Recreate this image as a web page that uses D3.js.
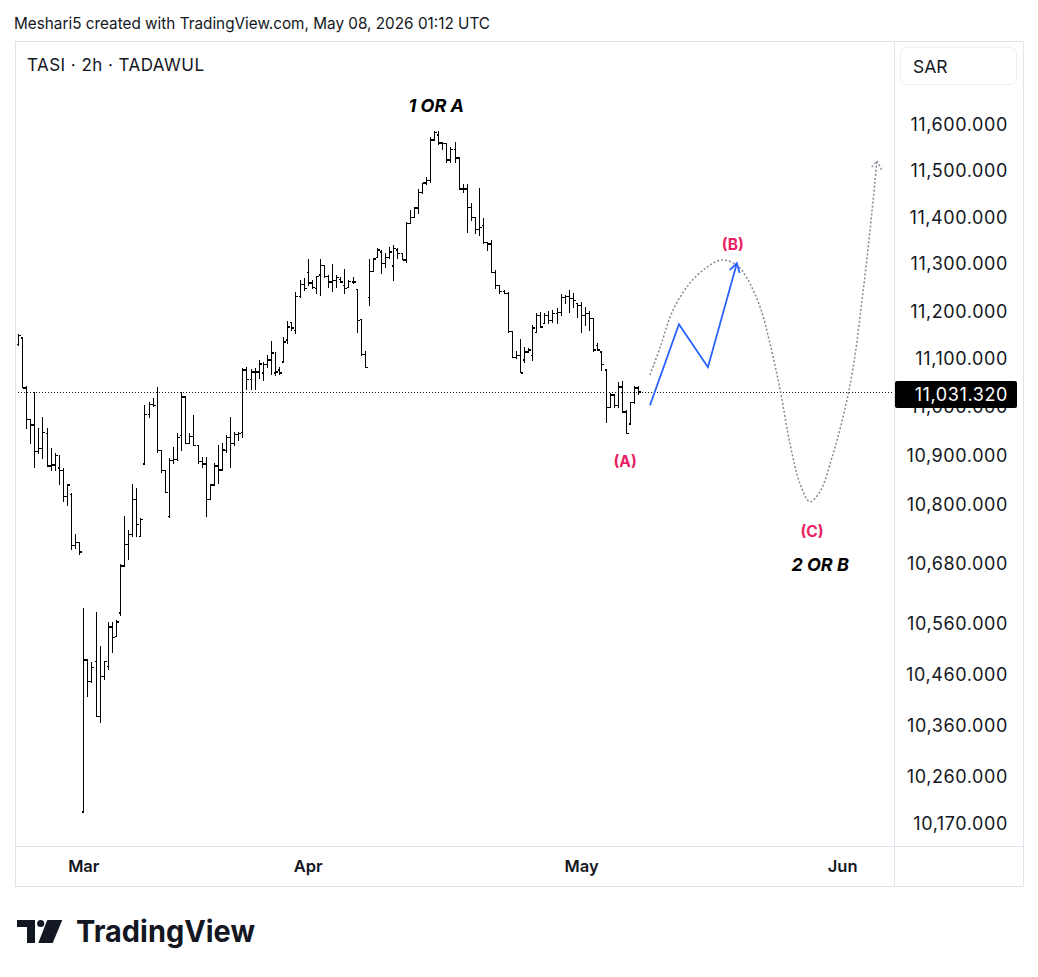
<!DOCTYPE html>
<html>
<head>
<meta charset="utf-8">
<script src="https://cdnjs.cloudflare.com/ajax/libs/d3/7.8.5/d3.min.js"></script>
<style>
  html, body { margin: 0; padding: 0; background: #fff; }
  svg { display: block; font-family: Inter, "Noto Sans", sans-serif; }
</style>
</head>
<body>
<svg id="chart" width="1038" height="977"></svg>
<script>
// OHLC bars, 2h TASI (index 0 = first bar at the left edge)
const highs = [11152,11144,11042,10975,11031,10956,10979,10956,10915,10904,
  10900,10873,10842,10823,10740,10724,10591,10489,10484,10583,
  10515,10486,10564,10564,10568,10680,10776,10748,10842,10833,
  10772,11004,11010,11019,11040,10910,10869,10894,10917,10946,
  11031,11023,10946,10983,10921,10896,10896,10842,10883,10921,
  10925,10942,10979,10948,10948,11081,11083,11079,11081,11098,
  11092,11108,11136,11113,11083,11146,11179,11177,11240,11266,
  11270,11309,11266,11274,11311,11298,11277,11300,11277,11272,
  11289,11266,11272,11247,11183,11115,11309,11313,11334,11330,
  11323,11336,11340,11334,11323,11389,11415,11422,11459,11474,
  11485,11572,11585,11585,11561,11559,11552,11561,11530,11470,
  11470,11430,11400,11463,11398,11347,11351,11287,11255,11245,
  11240,11158,11115,11142,11125,11123,11171,11196,11198,11196,
  11200,11202,11206,11236,11234,11245,11238,11217,11219,11209,
  11200,11185,11133,11115,11077,11029,11025,11052,11054,10994,
  11010,11042,11042];
const lows = [11129,11040,10956,10925,10875,10904,10894,10877,10869,10869,
  10842,10806,10798,10710,10712,10700,10193,10417,10444,10378,
  10366,10450,10470,10503,10535,10578,10676,10690,10736,10736,
  10736,10883,10979,11002,10906,10865,10825,10774,10883,10890,
  10910,10925,10925,10921,10883,10875,10776,10810,10840,10844,
  10869,10906,10875,10921,10931,10938,11036,11036,11036,11060,
  11056,11083,11067,11065,11067,11092,11133,11160,11154,11230,
  11245,11255,11249,11238,11234,11272,11251,11242,11251,11262,
  11238,11251,11260,11156,11108,11083,11213,11285,11315,11281,
  11294,11313,11266,11313,11309,11304,11387,11400,11409,11452,
  11470,11476,11567,11557,11546,11518,11518,11518,11459,11454,
  11368,11394,11366,11362,11345,11330,11283,11249,11238,11238,
  11156,11104,11102,11071,11092,11113,11098,11156,11167,11175,
  11175,11177,11175,11192,11217,11198,11209,11188,11156,11171,
  11160,11115,11119,11077,10969,11000,11000,11000,10990,10946,
  10965,11008,11027];
const opens = [11131,11144,11040,10975,10963,10908,10915,10946,10879,10881,
  10875,10869,10817,10821,10718,10724,10193,10489,10446,10486,
  10378,10456,10476,10554,10535,10582,10676,10720,10740,10810,
  10736,10883,10985,11006,11031,10910,10869,10776,10890,10892,
  10942,11021,10925,10940,10921,10888,10883,10810,10840,10879,
  10871,10910,10938,10925,10944,10948,11077,11058,11073,11073,
  11071,11088,11098,11071,11077,11094,11140,11177,11160,11232,
  11257,11283,11260,11249,11277,11298,11274,11262,11266,11268,
  11255,11251,11262,11247,11183,11110,11230,11285,11315,11326,
  11302,11315,11296,11330,11323,11309,11387,11400,11420,11454,
  11474,11480,11567,11578,11561,11559,11524,11546,11528,11461,
  11461,11422,11400,11374,11383,11347,11343,11283,11255,11242,
  11238,11158,11104,11108,11098,11115,11108,11156,11192,11175,
  11192,11181,11196,11198,11230,11232,11228,11217,11213,11192,
  11196,11185,11129,11115,11077,11000,11025,11004,11042,10990,
  10965,11010,11040];
const closes = [11150,11040,10975,10963,10908,10915,10948,10879,10881,10900,
  10869,10817,10840,10718,10724,10704,10489,10446,10474,10378,
  10456,10486,10554,10533,10564,10676,10720,10740,10810,10760,
  10770,10985,11006,11004,10910,10869,10825,10890,10892,10938,
  11021,10925,10940,10921,10888,10883,10810,10840,10879,10871,
  10912,10938,10925,10944,10946,11077,11058,11073,11073,11090,
  11088,11098,11113,11073,11071,11136,11167,11165,11232,11257,
  11249,11260,11251,11274,11298,11274,11262,11266,11272,11262,
  11249,11264,11262,11181,11110,11083,11285,11311,11330,11302,
  11315,11326,11334,11323,11309,11387,11400,11420,11454,11474,
  11480,11567,11583,11561,11559,11524,11546,11528,11461,11461,
  11422,11400,11374,11379,11347,11343,11283,11255,11242,11238,
  11158,11104,11108,11071,11115,11119,11165,11192,11167,11192,
  11181,11196,11198,11230,11232,11228,11223,11213,11192,11196,
  11185,11119,11119,11088,11000,11025,11004,11042,10990,10946,
  11010,11040,11031.32];

const lastPrice = 11031.32;

// time axis (bar index where each month starts, future bars included)
const monthLabels = ["Mar", "Apr", "May", "Jun"];
const monthIndex = [16, 71, 138, 202];

// price axis ticks
const priceTicks = [11600, 11500, 11400, 11300, 11200, 11100, 11000, 10900, 10800,
  10680, 10560, 10460, 10360, 10260, 10170];

// drawings: [bar index, price]
const bluePath = [[154.9, 11004], [162, 11173], [169.1, 11083], [176.2, 11302]];
const projPath = [[154.9, 11067], [157.4, 11125], [160.5, 11202], [164.7, 11260],
  [168.9, 11294], [172.5, 11309], [176.2, 11298], [178.7, 11270], [181.9, 11209],
  [184.3, 11133], [186.8, 11036], [189.2, 10925], [191.7, 10842], [194.1, 10806],
  [196.6, 10827], [199.5, 10896], [202.2, 10979], [204.7, 11083], [206.9, 11226],
  [208.8, 11370], [210, 11474], [210.5, 11522]];
const waveLabels = [
  { text: "1 OR A", i: 102.5, p: 11643, kind: "big" },
  { text: "(A)", i: 148.8, p: 10888, kind: "pink" },
  { text: "(B)", i: 175.2, p: 11341, kind: "pink" },
  { text: "(C)", i: 194.6, p: 10746, kind: "pink" },
  { text: "2 OR B", i: 196.6, p: 10680, kind: "big" }
];

const svg = d3.select('#chart');
const W = 1038;
const paneLeft = 15, paneRight = 894, paneTop = 41, paneBottom = 846;
const frameRight = 1023, frameBottom = 886;

// scales
const x = d3.scaleLinear().domain([0, 152]).range([18, 18 + 152 * 4.08]);
const y = d3.scaleLog().domain([11600, 10170]).range([125, 824]);

svg.append('rect').attr('width', W).attr('height', 977).attr('fill', '#fff');

// header
svg.append('text')
  .attr('x', 14).attr('y', 29)
  .attr('font-size', 16.5)
  .attr('textLength', 476).attr('lengthAdjust', 'spacingAndGlyphs')
  .attr('fill', '#131722')
  .text('Meshari5 created with TradingView.com, May 08, 2026 01:12 UTC');

// frame
const frame = svg.append('g').attr('stroke', '#e0e3eb').attr('fill', 'none').attr('shape-rendering', 'crispEdges');
frame.append('rect').attr('x', paneLeft + 0.5).attr('y', paneTop + 0.5)
  .attr('width', frameRight - paneLeft).attr('height', frameBottom - paneTop);
frame.append('line').attr('x1', paneRight + 0.5).attr('x2', paneRight + 0.5)
  .attr('y1', paneTop).attr('y2', frameBottom);
frame.append('line').attr('x1', paneLeft).attr('x2', frameRight)
  .attr('y1', paneBottom + 0.5).attr('y2', paneBottom + 0.5);

svg.append('text')
  .attr('x', 27).attr('y', 71)
  .attr('font-size', 17)
  .attr('textLength', 177).attr('lengthAdjust', 'spacing')
  .attr('fill', '#131722')
  .text('TASI · 2h · TADAWUL');

// clip for plot pane
svg.append('clipPath').attr('id', 'pane')
  .append('rect').attr('x', paneLeft + 1).attr('y', paneTop + 1)
  .attr('width', paneRight - paneLeft - 1).attr('height', paneBottom - paneTop - 1);
const plot = svg.append('g').attr('clip-path', 'url(#pane)');

// last price dotted line
plot.append('line')
  .attr('x1', paneLeft).attr('x2', paneRight)
  .attr('y1', Math.round(y(lastPrice)) + 0.5).attr('y2', Math.round(y(lastPrice)) + 0.5)
  .attr('stroke', '#131722').attr('stroke-width', 1)
  .attr('stroke-dasharray', '1,2');

// OHLC bars
const bars = highs.map((h, i) => ({ i, h, l: lows[i], o: opens[i], c: closes[i] }));
const barG = plot.append('g')
  .attr('stroke', '#000').attr('stroke-width', 1.3)
  .attr('shape-rendering', 'crispEdges');
const bg = barG.selectAll('g').data(bars).enter().append('g');
bg.append('line')
  .attr('x1', d => Math.round(x(d.i)) + 0.5).attr('x2', d => Math.round(x(d.i)) + 0.5)
  .attr('y1', d => y(d.h) - 0.5).attr('y2', d => y(d.l) + 0.5);
bg.append('line')
  .attr('x1', d => Math.round(x(d.i)) - 1.5).attr('x2', d => Math.round(x(d.i)) + 0.5)
  .attr('y1', d => y(d.o)).attr('y2', d => y(d.o));
bg.append('line')
  .attr('x1', d => Math.round(x(d.i)) + 0.5).attr('x2', d => Math.round(x(d.i)) + 2.5)
  .attr('y1', d => y(d.c)).attr('y2', d => y(d.c));

// projected dotted path
const curve = d3.line().x(d => x(d[0])).y(d => y(d[1])).curve(d3.curveCatmullRom.alpha(0.5));
plot.append('path')
  .attr('d', curve(projPath))
  .attr('fill', 'none')
  .attr('stroke', '#868993').attr('stroke-width', 1.5)
  .attr('stroke-dasharray', '2,2');
// arrow head of projected path
{
  const a = projPath[projPath.length - 1], b = projPath[projPath.length - 3];
  const ax = x(a[0]), ay = y(a[1]);
  const ang = Math.atan2(ay - y(b[1]), ax - x(b[0]));
  const len = 10;
  const pts = [-0.6, 0.6].map(s => [ax - len * Math.cos(ang + s), ay - len * Math.sin(ang + s)]);
  plot.append('path')
    .attr('d', `M${pts[0][0]},${pts[0][1]}L${ax},${ay}L${pts[1][0]},${pts[1][1]}`)
    .attr('fill', 'none').attr('stroke', '#868993').attr('stroke-width', 1.3)
    .attr('stroke-dasharray', '2,2');
}

// blue path
const lin = d3.line().x(d => x(d[0])).y(d => y(d[1]));
plot.append('path')
  .attr('d', lin(bluePath))
  .attr('fill', 'none')
  .attr('stroke', '#2962ff').attr('stroke-width', 1.8)
  .attr('stroke-linejoin', 'miter');
{
  const a = bluePath[bluePath.length - 1], b = bluePath[bluePath.length - 2];
  const ax = x(a[0]), ay = y(a[1]);
  const ang = Math.atan2(ay - y(b[1]), ax - x(b[0]));
  const len = 10;
  const pts = [-0.55, 0.55].map(s => [ax - len * Math.cos(ang + s), ay - len * Math.sin(ang + s)]);
  plot.append('path')
    .attr('d', `M${pts[0][0]},${pts[0][1]}L${ax},${ay}L${pts[1][0]},${pts[1][1]}`)
    .attr('fill', 'none').attr('stroke', '#2962ff').attr('stroke-width', 1.8);
}

// wave labels
plot.selectAll('text.wave').data(waveLabels).enter().append('text')
  .attr('class', 'wave')
  .attr('x', d => x(d.i)).attr('y', d => y(d.p))
  .attr('text-anchor', 'middle').attr('dominant-baseline', 'central')
  .attr('font-size', d => d.kind === 'big' ? 18 : 15.5)
  .attr('font-weight', 700)
  .attr('font-style', d => d.kind === 'big' ? 'italic' : 'normal')
  .attr('fill', d => d.kind === 'big' ? '#000' : '#e91e63')
  .text(d => d.text);

// price axis
svg.append('rect')
  .attr('x', 900.5).attr('y', 47.5).attr('width', 116).attr('height', 37).attr('rx', 6)
  .attr('fill', '#fff').attr('stroke', '#eceef2');
svg.append('text')
  .attr('x', 913).attr('y', 66).attr('dominant-baseline', 'central')
  .attr('font-size', 17.5).attr('fill', '#131722').text('SAR');

const yAxis = d3.axisRight(y).tickValues(priceTicks)
  .tickSize(0).tickPadding(0)
  .tickFormat(d => d3.format(',.3f')(d));
const ax = svg.append('g').attr('transform', `translate(${paneRight}, 0)`).call(yAxis);
ax.select('.domain').remove();
ax.selectAll('text')
  .attr('x', 1008 - paneRight).attr('text-anchor', 'end')
  .attr('font-size', 18).attr('letter-spacing', 0.6).attr('fill', '#131722')
  .attr('font-family', 'Inter, "Noto Sans", sans-serif');

// last price label
const ly = y(lastPrice);
svg.append('rect')
  .attr('x', 895).attr('y', 381).attr('width', 122).attr('height', 27).attr('rx', 2)
  .attr('fill', '#000');
svg.append('text')
  .attr('x', 1008).attr('y', 394.5).attr('text-anchor', 'end').attr('dominant-baseline', 'central')
  .attr('font-size', 18).attr('letter-spacing', 0.6).attr('fill', '#fff')
  .text(d3.format(',.3f')(lastPrice));

// time axis
const xAxis = d3.axisBottom(x).tickValues(monthIndex)
  .tickSize(0).tickPadding(0)
  .tickFormat((d, k) => monthLabels[k]);
const tx = svg.append('g').attr('transform', `translate(0, ${paneBottom})`).call(xAxis);
tx.select('.domain').remove();
tx.selectAll('text')
  .attr('y', 20).attr('dy', '0.35em')
  .attr('font-size', 16.5).attr('font-weight', 600).attr('fill', '#131722')
  .attr('font-family', 'Inter, "Noto Sans", sans-serif');

// TradingView logo
const logo = svg.append('g').attr('fill', '#131722');
logo.append('path').attr('d', 'M17,920H35V943H27V927H17Z');
logo.append('circle').attr('cx', 40.7).attr('cy', 923.5).attr('r', 3.6);
logo.append('path').attr('d', 'M47.3,920H62.3L52.7,943H38.3Z');
logo.append('text')
  .attr('x', 76).attr('y', 942)
  .attr('font-size', 30).attr('font-weight', 700)
  .attr('textLength', 179).attr('lengthAdjust', 'spacingAndGlyphs')
  .text('TradingView');
</script>
</body>
</html>
